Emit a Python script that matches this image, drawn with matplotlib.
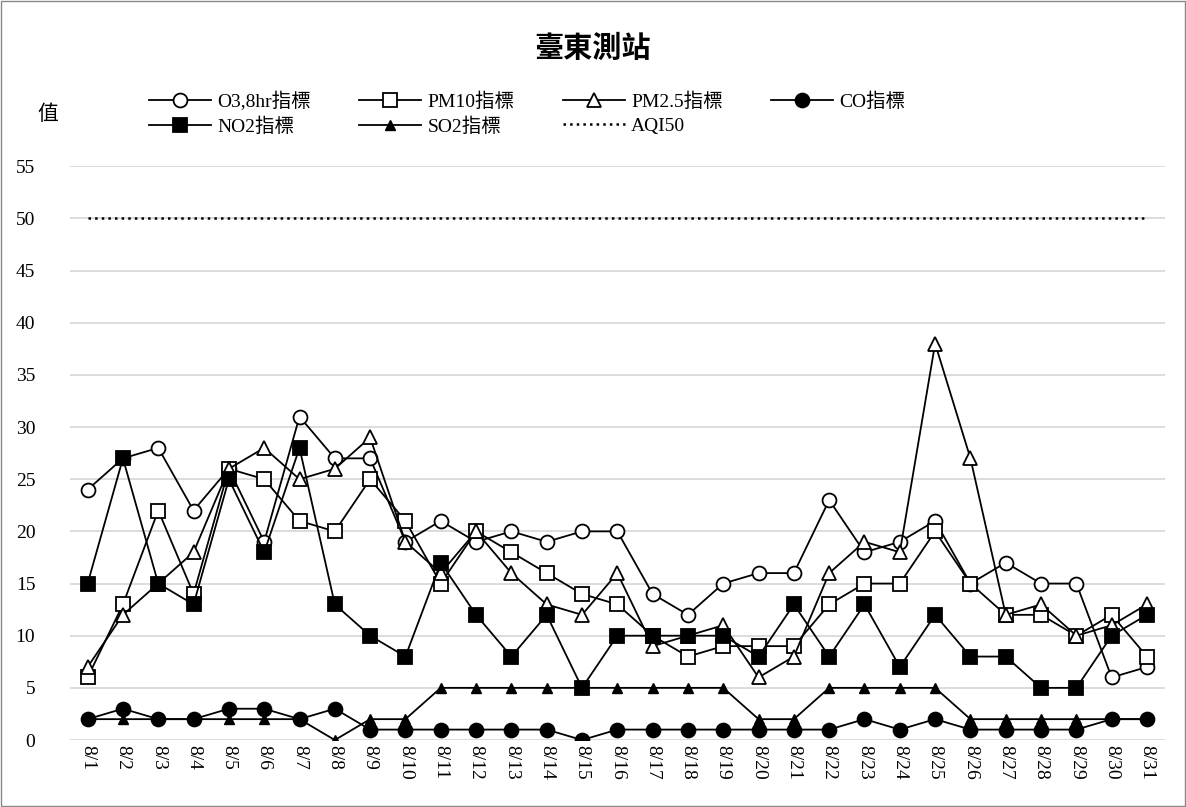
import matplotlib
matplotlib.use("Agg")
import matplotlib.pyplot as plt

dates = [f"8/{i}" for i in range(1, 32)]
o3 = [24,27,28,22,26,19,31,27,27,19,21,19,20,19,20,20,14,12,15,16,16,23,18,19,21,15,17,15,15,6,7]
pm10 = [6,13,22,14,26,25,21,20,25,21,15,20,18,16,14,13,10,8,9,9,9,13,15,15,20,15,12,12,10,12,8]
pm25 = [7,12,15,18,26,28,25,26,29,19,16,20,16,13,12,16,9,10,11,6,8,16,19,18,38,27,12,13,10,11,13]
co = [2,3,2,2,3,3,2,3,1,1,1,1,1,1,0,1,1,1,1,1,1,1,2,1,2,1,1,1,1,2,2]
no2 = [15,27,15,13,25,18,28,13,10,8,17,12,8,12,5,10,10,10,10,8,13,8,13,7,12,8,8,5,5,10,12]
so2 = [2,2,2,2,2,2,2,0,2,2,5,5,5,5,5,5,5,5,5,2,2,5,5,5,5,2,2,2,2,2,2]
aqi50 = [50]*31

plt.rcParams['font.family'] = ['Liberation Serif', 'Noto Sans CJK TC']

fig = plt.figure(figsize=(11.86, 8.07), dpi=100)
fig.patches.append(plt.Rectangle((0.001, 0.001), 0.998, 0.998, transform=fig.transFigure,
                                 fill=False, edgecolor='#888888', lw=1))
ax = fig.add_axes([0.059, 0.083, 0.923, 0.711])
x = list(range(31))
kw = dict(color='black', lw=1.3, markersize=10, markeredgewidth=1.3)
h_o3, = ax.plot(x, o3, marker='o', markerfacecolor='white', label='O3,8hr指標', **kw)
h_pm10, = ax.plot(x, pm10, marker='s', markerfacecolor='white', label='PM10指標', **kw)
h_pm25, = ax.plot(x, pm25, marker='^', markerfacecolor='white', label='PM2.5指標', **kw)
h_co, = ax.plot(x, co, marker='o', markerfacecolor='black', label='CO指標', **kw)
h_no2, = ax.plot(x, no2, marker='s', markerfacecolor='black', label='NO2指標', **kw)
h_so2, = ax.plot(x, so2, marker='^', markerfacecolor='black', color='black', lw=1.3, markersize=7, label='SO2指標')
h_aqi, = ax.plot(x, aqi50, color='black', ls=':', lw=1.8, label='AQI50')

ax.set_xlim(-0.5, 30.5)
ax.set_ylim(0, 55)
ax.set_yticks(range(0, 56, 5))
ax.set_xticks(x)
ax.set_xticklabels(dates, rotation=270, fontsize=14)
ax.tick_params(axis='y', labelsize=14, length=0, pad=25)
ax.tick_params(axis='x', length=0)
ax.grid(axis='y', color='#d9d9d9', lw=1.3)
ax.set_axisbelow(True)
for s in ax.spines.values():
    s.set_visible(False)

fig.text(0.5, 0.94, '臺東測站', ha='center', va='center', fontsize=21, fontweight='bold')
fig.text(0.04, 0.857, '值', ha='center', va='center', fontsize=15)
handles = [h_o3, h_no2, h_pm10, h_so2, h_pm25, h_aqi, h_co]
ax.legend(handles=handles, labels=[h.get_label() for h in handles],
          loc='lower left', bbox_to_anchor=(0.065, 1.04), ncol=4, frameon=False,
          fontsize=14, handlelength=3.2, handletextpad=0.3, columnspacing=2.5,
          borderaxespad=0, labelspacing=0.3)
fig.savefig('out.png', dpi=100)
